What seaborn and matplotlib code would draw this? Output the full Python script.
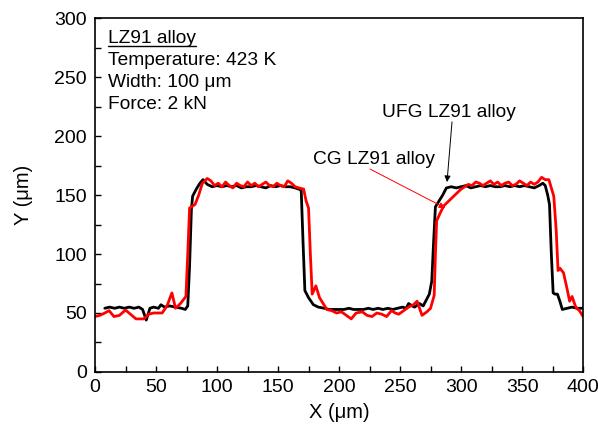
import numpy as np
import pandas as pd
import matplotlib
matplotlib.use("Agg")
import matplotlib.pyplot as plt
from matplotlib.ticker import MultipleLocator
from matplotlib.lines import Line2D
import seaborn as sns

# Surface profile across the scratch tracks
ufg_x = [8, 12, 16, 20, 24, 28, 32, 36, 39, 42, 45, 48, 52, 54, 57, 61, 66, 71, 74, 76, 77.5, 79, 80, 83,
         86, 88.5, 92, 96, 100, 104, 108, 112, 116, 120, 124, 128, 132, 136, 140, 144, 148, 152, 156,
         160, 164, 167, 169, 170.5, 172, 175, 179, 183, 188, 192, 196, 200, 204, 208, 212, 216, 220,
         224, 228, 232, 236, 240, 244, 248, 252, 255, 257, 260, 262, 266, 269, 271, 274, 276, 277.5,
         279, 282, 285, 288, 292, 296, 300, 304, 308, 312, 316, 320, 324, 328, 332, 336, 340, 344,
         348, 352, 356, 360, 364, 367, 369, 371, 372.5, 374, 375.5, 377, 379, 381, 383, 387, 391, 395, 400]
ufg_y = [54, 55, 54, 55, 54, 55, 54, 55, 53, 44, 54, 55, 54, 57, 55, 56, 55, 54, 53, 56, 90, 138, 149, 155,
         160, 163, 159, 157, 158, 157, 158, 157, 158, 156, 157, 157, 158, 157, 156, 158, 157, 158, 157,
         157, 156, 155, 154, 110, 69, 63, 57, 55, 54, 53, 53, 53, 53, 54, 53, 53, 53,
         54, 53, 54, 53, 54, 53, 54, 55, 54, 58, 56, 55, 58, 56, 60, 66, 77, 110,
         140, 145, 150, 156, 157, 156, 157, 158, 156, 157, 158, 157, 158, 157, 157, 158, 157, 158,
         157, 158, 157, 156, 158, 160, 158, 150, 142, 100, 67, 66, 66, 60, 53, 54, 55, 54, 54]

cg_x = [0, 4, 8, 11.5, 15.5, 20, 25, 29, 33.6, 37, 40, 44, 48, 51, 55, 59, 63, 66, 70, 74.5, 76, 77.5,
        79, 82, 85, 88, 92, 95, 98, 101, 104, 107, 110, 113, 116, 119, 122, 125, 128, 131, 134, 137,
        140, 143, 146, 149, 152, 155, 158, 161, 164, 167, 171, 173, 175, 176.5, 178, 181, 184, 187,
        190, 194, 198, 202, 206, 210, 214, 219, 223, 227, 231, 235, 239, 243, 246, 249, 253, 257,
        261, 264, 268, 272, 275, 278, 279, 280, 283, 286, 290, 295, 300, 303, 306, 309, 312, 315,
        318, 321, 324, 327, 330, 333, 336, 339, 342, 345, 348, 351, 354, 357, 360, 363, 366, 369,
        372, 374, 376, 378, 379.5, 381, 384, 387, 389, 391, 394, 397, 400]
cg_y = [47, 48, 50, 52, 47, 48, 52.5, 49, 45, 45, 45, 49, 50, 50, 50, 56, 67, 54, 58, 64, 100, 139,
        140, 142, 150, 160, 164, 162, 158, 160, 157, 161, 158, 156, 160, 158, 157, 161, 158, 160, 157, 159,
        161, 158, 157, 160, 158, 157, 162, 160, 157, 156, 155, 145, 139, 100, 66, 73, 63, 58,
        53, 52, 50, 51, 48, 45, 50, 51, 48, 47, 50, 49, 47, 52, 50, 49, 52, 55,
        57, 60, 48, 51, 54, 65, 100, 128, 135, 141, 145, 150, 155, 157, 159, 158, 161, 160,
        158, 160, 162, 159, 161, 158, 160, 161, 158, 159, 162, 160, 158, 161, 159, 161, 165, 163,
        163, 156, 149, 120, 86, 88, 84, 70, 60, 64, 55, 52, 47]

series_names = ["UFG LZ91 alloy", "CG LZ91 alloy"]
series_colors = ["black", "red"]

df = pd.concat([
    pd.DataFrame({"X": ufg_x, "Y": ufg_y, "alloy": series_names[0]}),
    pd.DataFrame({"X": cg_x, "Y": cg_y, "alloy": series_names[1]}),
], ignore_index=True)

sns.set_theme(style="white")
plt.rcParams["font.family"] = ["Liberation Sans", "DejaVu Sans"]

fig = plt.figure(figsize=(5.98, 4.32), dpi=100)
ax = fig.add_axes([0.1589, 0.1389, 0.8161, 0.8194])

sns.lineplot(data=df, x="X", y="Y", hue="alloy", palette=dict(zip(series_names, series_colors)),
             sort=False, estimator=None, linewidth=2.0, legend=False, ax=ax)

ax.set_xlim(0, 400)
ax.set_ylim(0, 300)
ax.xaxis.set_major_locator(MultipleLocator(50))
ax.xaxis.set_minor_locator(MultipleLocator(25))
ax.yaxis.set_major_locator(MultipleLocator(50))
ax.yaxis.set_minor_locator(MultipleLocator(25))
ax.tick_params(axis="both", which="both", direction="in", colors="black",
               bottom=True, left=True, top=False, right=False, labelsize=14)
ax.tick_params(which="both", length=4.5, width=1)
ax.tick_params(axis="y", pad=6)
ax.tick_params(axis="x", pad=5)
for s in ax.spines.values():
    s.set_color("black")
    s.set_linewidth(1.2)

ax.set_xlabel("X (μm)", fontsize=14.5, color="black", labelpad=5)
ax.set_ylabel("Y (μm)", fontsize=14.5, color="black", labelpad=15)

# Test conditions
info = ["LZ91 alloy", "Temperature: 423 K", "Width: 100 μm", "Force: 2 kN"]
ys = [0.943, 0.881, 0.819, 0.757]
texts = []
for s, yy in zip(info, ys):
    texts.append(ax.text(0.027, yy, s, transform=ax.transAxes, fontsize=13.8, va="center",
                         ha="left", color="black"))

# Curve labels with leader arrows
ax.text(290, 219.5, "UFG LZ91 alloy", fontsize=13.8, ha="center", va="center", color="black")
ax.annotate("", xy=(288.5, 161), xytext=(292.6, 212),
            arrowprops=dict(arrowstyle="-|>", color="black", lw=0.7, mutation_scale=9,
                            shrinkA=0, shrinkB=0))
ax.text(228.7, 180.5, "CG LZ91 alloy", fontsize=13.8, ha="center", va="center", color="black")
ax.annotate("", xy=(287, 139), xytext=(225.4, 172),
            arrowprops=dict(arrowstyle="-|>", color="red", lw=0.7, mutation_scale=9,
                            shrinkA=0, shrinkB=0))

# Underline the alloy heading
fig.canvas.draw()
bb = texts[0].get_window_extent(renderer=fig.canvas.get_renderer())
inv = fig.transFigure.inverted()
(x0, y0), (x1, _) = inv.transform([(bb.x0, bb.y0 + 1), (bb.x1, bb.y0 + 1)])
fig.add_artist(Line2D([x0, x1], [y0, y0], color="black", lw=1.0, transform=fig.transFigure))

fig.savefig("out.png", dpi=100)
